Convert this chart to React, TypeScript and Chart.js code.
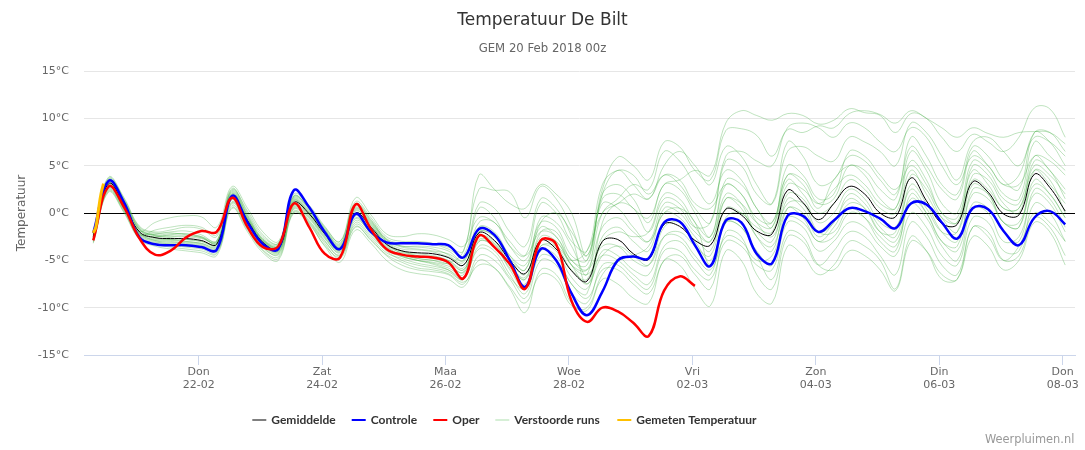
import React, { useEffect, useRef } from 'react';
import { Chart, registerables } from 'chart.js';

Chart.register(...registerables);

// ---- data ----
const TITLE = 'Temperatuur De Bilt';
const SUBTITLE = 'GEM 20 Feb 2018 00z';
const Y_TITLE = 'Temperatuur';
const CREDITS = 'Weerpluimen.nl';

// forecast hours (local time, hours since 20-02 00:00), 6-hourly from 20-02 07:00
const START_HOUR = 7;
const STEP_HOURS = 6;

const gemiddelde = [
  -2.5, 3.1, 0.9, -2.0, -2.6, -2.7, -2.7, -2.9, -3.3, 1.8, -0.8, -3.1, -3.8, 1.1, -0.1, -2.2,
  -3.8, 0.0, -1.5, -3.3, -4.0, -4.2, -4.3, -4.7, -5.5, -2.1, -2.9, -5.0, -6.4, -2.9, -3.8, -6.1,
  -7.2, -3.0, -2.8, -4.3, -4.9, -1.2, -1.4, -2.9, -3.4, 0.4, -0.2, -1.9, -2.2, 2.4, 1.1, -0.7,
  1.0, 2.8, 2.0, 0.0, -0.4, 3.7, 1.3, -1.1, -1.2, 3.3, 2.2, -0.1, -0.2, 4.1, 2.7, 0.2,
];

const controle = [
  -2.1, 3.4, 1.1, -2.6, -3.3, -3.4, -3.4, -3.6, -3.9, 1.8, -1.0, -3.3, -3.8, 2.4, 0.6, -2.0,
  -3.8, -0.1, -2.0, -3.1, -3.2, -3.2, -3.3, -3.4, -4.7, -1.7, -2.3, -5.0, -7.8, -3.8, -5.0, -8.5,
  -10.8, -8.3, -5.0, -4.6, -4.8, -1.0, -0.9, -3.4, -5.6, -0.8, -1.0, -4.3, -5.3, -0.3, -0.3, -2.0,
  -0.8, 0.5, 0.2, -0.6, -1.6, 1.0, 0.9, -1.0, -2.7, 0.5, 0.4, -1.9, -3.4, -0.5, 0.2, -1.2,
];

const oper = [
  -2.9, 2.8, 0.6, -2.7, -4.4, -4.0, -2.6, -1.9, -2.0, 1.6, -1.5, -3.6, -3.5, 1.0, -1.5, -4.3,
  -4.7, 0.9, -1.7, -3.8, -4.4, -4.6, -4.7, -5.2, -6.9, -2.4, -3.6, -5.4, -8.0, -2.9, -3.3, -9.3,
  -11.5, -10.0, -10.4, -11.6, -13.0, -8.2, -6.7, -7.7,
];

const gemetenHours = [7, 8, 9, 10, 11];
const gemeten = [-2.1, -1.5, 0.3, 2.0, 3.1];

// perturbed members (Verstoorde runs)
const m01 = [-2.2,3.6,1.4,-1.6, -2.3,-2.4,-2.5,-2.7, -3.0,2.2,-0.4,-2.8, -3.5,1.5,0.3,-1.8, -3.4,0.6,-1.0,-2.9, -3.6,-3.8,-4.0,-4.3, -5.0,0.5,-0.5,-3.5, -5.0,-1.0,-1.5,-4.5, -5.0,1.5,2.0,0.5, -0.5,3.0,3.5,4.5, 4.0,9.5,10.8,10.3, 9.8,10.5,10.3,9.4, 9.8,11.0,10.6,10.3, 8.5,10.5,10.0,8.0, 6.5,8.3,7.5,6.5, 8.0,11.1,11.0,8.0];
const m02 = [-2.0,3.8,1.6,-1.4, -2.0,-1.8,-1.5,-1.7, -2.5,2.4,0.2,-2.3, -3.2,1.8,0.6,-1.5, -3.0,1.2,-0.5,-2.5, -3.0,-3.0,-3.2,-3.6, -4.0,4.0,2.5,1.0, 0.5,3.0,2.0,0.0, -4.5,2.5,5.9,5.0, 3.5,7.5,7.0,4.5, 3.5,8.7,8.9,8.2, 6.0,8.8,8.5,9.2, 9.0,10.5,10.8,10.4, 9.5,10.8,10.0,9.0, 8.0,9.0,8.4,8.0, 8.5,8.6,8.5,7.3];
const m03 = [-2.6,2.9,0.8,-2.2, -2.8,-2.9,-3.0,-3.2, -3.6,1.5,-1.0,-3.3, -4.0,0.8,-0.4,-2.5, -4.0,-0.5,-2.0,-3.6, -4.4,-4.8,-5.0,-5.3, -4.0,2.5,2.4,2.2, -0.5,2.8,1.5,-1.5, -5.0,2.0,4.5,3.0, 1.5,5.0,6.5,5.0, 3.0,7.0,6.0,3.0, 1.0,6.5,7.0,6.0, 5.5,8.0,7.5,6.5, 5.0,9.5,8.5,6.0, 3.5,7.5,8.0,6.5, 5.0,8.0,7.5,6.0];
const m04 = [-2.3,3.3,1.0,-1.8, -2.4,-2.5,-2.4,-2.6, -3.1,2.0,-0.6,-3.0, -3.6,1.3,0.0,-2.0, -3.6,0.3,-1.3,-3.0, -3.8,-3.9,-4.1,-4.6, -5.2,-1.0,-1.0,-3.5, -4.5,1.0,0.0,-3.0, -4.0,3.0,4.5,4.0, 2.0,4.0,3.0,0.5, -1.0,5.5,5.0,2.0, 1.0,7.5,6.0,3.0, 3.5,6.0,5.5,3.5, 2.0,7.0,5.0,2.5, 1.5,6.5,5.0,3.0, 3.0,6.0,5.5,4.0];
const m05 = [-2.7,2.7,0.5,-2.3, -2.9,-3.0,-3.2,-3.4, -3.8,1.2,-1.2,-3.5, -4.2,0.6,-0.6,-2.7, -4.1,-0.8,-2.1,-3.8, -4.6,-5.0,-5.3,-5.8, -6.5,-1.5,-2.0,-4.5, -6.0,-0.5,-1.0,-3.5, -6.5,2.0,3.0,1.5, -1.0,3.0,2.5,0.0, -2.5,3.5,3.0,0.5, -1.5,5.0,4.0,1.5, 2.0,6.5,6.0,4.0, 2.5,5.0,3.0,0.0, -1.0,5.0,4.0,1.5, 1.0,6.0,4.5,2.5];
const m06 = [-2.4,3.0,0.7,-2.1, -2.2,-2.0,-1.9,-2.3, -3.0,2.5,-0.3,-2.8, -3.4,1.8,0.4,-1.8, -3.5,0.5,-1.2,-3.2, -4.0,-4.5,-4.8,-5.2, -6.0,-2.5,-3.0,-5.5, -7.0,-2.0,-2.0,-5.0, -5.5,0.0,1.5,3.0, 2.5,6.5,5.5,3.0, 1.0,4.5,3.5,0.5, -1.0,4.0,3.5,1.0, 1.5,5.0,4.0,1.5, 0.5,6.5,4.5,1.0, 0.0,5.5,4.5,2.0, 1.5,7.5,6.0,4.5];
const m07 = [-2.5,3.1,0.8,-2.0, -2.7,-2.8,-2.8,-3.0, -3.4,1.7,-0.9,-3.2, -3.9,1.0,-0.2,-2.3, -3.9,-0.1,-1.6,-3.4, -4.2,-4.5,-4.6,-5.0, -5.8,-2.5,-3.2,-5.5, -6.8,-2.8,-3.5,-6.0, -7.0,-2.5,-1.5,-3.0, -4.0,0.5,0.0,-2.0, -3.0,1.5,1.0,-1.0, -1.5,3.5,2.0,0.0, 1.0,3.5,2.5,0.5, 0.0,4.5,2.0,-0.5, -1.0,3.5,2.5,0.5, 0.5,4.5,3.0,1.0];
const m08 = [-2.8,2.6,0.4,-2.4, -3.0,-3.3,-3.5,-3.6, -4.0,1.0,-1.4,-3.7, -4.3,0.5,-0.8,-2.9, -4.5,-1.0,-2.4,-4.0, -5.0,-5.5,-5.8,-6.2, -7.0,-3.5,-4.0,-6.5, -8.5,-4.0,-4.5,-7.5, -8.5,-1.0,1.0,0.5, -2.0,1.5,1.0,-1.5, -3.0,2.0,1.0,-2.5, -4.0,1.5,0.5,-2.0, -1.0,2.0,1.0,-1.5, -2.5,3.0,1.0,-2.0, -3.0,2.0,1.5,-1.0, -1.5,3.5,2.0,-0.5];
const m09 = [-2.2,3.4,1.2,-1.7, -2.4,-2.6,-2.8,-3.0, -3.3,1.9,-0.7,-3.0, -3.7,1.2,0.0,-2.1, -3.7,0.2,-1.4,-3.2, -4.3,-4.8,-5.0,-5.4, -6.3,-3.0,-3.6,-5.8, -7.5,-3.5,-4.0,-6.8, -8.0,-4.0,-4.5,-6.0, -6.5,-2.5,-2.0,-3.5, -4.5,0.5,0.0,-1.5, -2.0,3.0,2.5,1.0, 2.5,4.0,3.0,1.0, 0.5,5.5,3.5,0.0, -0.5,4.5,3.0,0.5, 0.5,5.0,4.0,2.0];
const m10 = [-2.6,2.8,0.6,-2.2, -2.5,-2.3,-2.2,-2.5, -3.2,2.1,-0.5,-2.9, -3.5,1.4,0.2,-1.9, -3.6,0.8,-0.9,-2.8, -3.5,-3.5,-3.6,-4.0, -5.0,-1.5,-2.3,-4.5, -5.5,-1.5,-2.5,-5.0, -6.0,-3.5,-3.5,-5.0, -5.5,-1.5,-1.0,-3.0, -5.0,-1.0,-1.5,-4.0, -5.5,0.5,-0.5,-3.0, -1.5,1.0,0.5,-2.0, -3.0,1.5,0.0,-3.0, -4.0,1.0,0.5,-2.0, -3.0,2.5,1.5,-1.5];
const m11 = [-3.0,2.4,0.2,-2.6, -3.2,-3.4,-3.6,-3.8, -4.2,0.8,-1.6,-3.9, -4.6,0.2,-1.0,-3.2, -4.8,-1.5,-2.8,-4.5, -5.5,-6.0,-6.2,-6.5, -7.5,-4.5,-5.0,-7.0, -9.0,-5.0,-5.5,-8.5, -9.5,-5.5,-5.5,-7.0, -8.0,-4.0,-4.0,-6.0, -7.0,-3.0,-3.5,-5.5, -6.0,-1.0,-1.5,-4.0, -3.0,-1.0,-1.5,-3.5, -4.5,0.0,-1.5,-4.5, -5.5,-0.5,-1.0,-4.0, -4.0,1.0,0.0,-3.0];
const m12 = [-3.2,2.2,0.0,-2.8, -3.5,-3.8,-4.0,-4.2, -4.5,0.5,-2.0,-4.2, -5.0,0.0,-1.2,-3.5, -5.2,-1.8,-3.2,-5.0, -6.0,-6.4,-6.6,-7.0, -7.8,-5.0,-5.8,-8.0, -10.5,-6.0,-6.5,-9.5, -10.3,-7.0,-7.5,-9.0, -9.5,-5.0,-5.5,-8.0, -9.8,-4.0,-5.0,-8.5, -9.5,-3.5,-4.5,-6.5, -5.5,-3.0,-3.5,-5.0, -8.0,-2.5,-4.0,-7.0, -7.0,-2.5,-3.5,-6.0, -5.0,-1.0,-2.0,-5.5];
const m13 = [-2.4,3.2,1.0,-1.9, -1.0,-0.5,-0.3,-0.4, -1.5,2.8,0.5,-2.0, -3.0,2.0,0.8,-1.4, -3.0,1.6,-0.2,-2.2, -2.5,-2.2,-2.3,-2.8, -3.5,-0.5,-1.0,-3.0, -4.5,-2.0,-2.5,-5.5, -6.5,-4.5,-5.0,-6.5, -7.5,-3.5,-3.0,-5.0, -6.5,-1.0,-1.5,-4.5, -7.0,-2.0,-2.5,-5.5, -6.0,-4.0,-4.5,-6.0, -8.2,-3.0,-4.0,-6.5, -7.0,-1.5,-2.5,-5.0, -3.5,0.0,-1.0,-3.0];
const m14 = [-2.7,2.8,0.6,-2.3, -1.8,-1.5,-1.3,-1.5, -2.3,2.6,0.0,-2.5, -3.2,1.6,0.5,-1.6, -3.2,1.0,-0.7,-2.7, -3.2,-3.2,-3.3,-3.8, -4.5,1.0,0.5,-2.0, -3.5,1.5,0.5,-2.5, -7.5,-3.0,-2.0,-2.5, -2.0,2.0,1.5,-1.0, -2.5,3.0,2.0,-0.5, -1.0,4.0,3.0,0.5, 3.5,5.0,4.5,2.5, 1.5,8.0,6.0,3.0, 2.0,7.0,6.0,3.5, 2.5,8.5,7.5,5.0];
const m15 = [-2.9,2.5,0.3,-2.5, -3.1,-3.2,-3.3,-3.5, -3.9,1.1,-1.3,-3.6, -4.4,0.4,-0.9,-3.0, -4.4,-1.2,-2.6,-4.2, -4.8,-5.3,-5.6,-6.0, -6.8,-3.8,-4.4,-6.8, -8.0,-4.5,-5.0,-7.5, -9.0,-6.0,-6.0,-7.5, -8.5,-5.0,-4.5,-6.5, -8.0,-2.0,-2.5,-6.5, -8.0,-2.5,-3.0,-5.5, -4.0,-2.0,-2.5,-4.5, -6.5,-1.0,-2.5,-5.5, -6.5,-1.5,-2.0,-5.0, -4.5,-0.5,-1.5,-4.5];
const m16 = [-2.5,3.5,1.3,-1.7, -2.3,-2.2,-2.2,-2.5, -2.9,2.3,-0.2,-2.7, -3.3,1.7,0.5,-1.7, -3.3,0.9,-0.8,-2.8, -3.5,-3.6,-3.8,-4.4, -5.5,-2.0,-2.5,-4.8, -6.0,-1.0,0.0,-2.0, -4.5,1.0,0.5,-1.5, -3.0,0.0,0.5,-1.0, -5.5,-0.5,0.0,-2.0, -3.0,2.0,1.5,-1.0, 0.0,2.5,1.5,-1.0, -1.5,2.5,0.5,-2.0, -2.0,4.0,3.5,1.0, 0.0,5.5,4.5,1.5];
const m17 = [-2.1,3.7,1.5,-1.5, -2.1,-2.1,-2.3,-2.6, -3.2,2.0,-0.6,-2.9, -3.6,1.3,0.1,-2.0, -3.7,0.4,-1.1,-3.0, -4.1,-4.3,-4.5,-5.0, -6.0,-2.8,-3.3,-5.5, -7.0,-3.5,-3.5,-5.0, -4.0,0.0,1.0,2.0, 1.5,4.0,3.5,1.0, 0.5,3.0,2.0,-1.0, -2.5,1.0,1.0,-2.0, -2.0,0.5,-0.5,-3.0, -4.0,2.0,0.0,-3.0, -3.5,2.5,2.0,-1.0, -1.5,4.5,3.5,0.0];
const m18 = [-2.8,2.7,0.5,-2.1, -2.9,-3.1,-3.1,-3.3, -3.7,1.4,-1.1,-3.4, -4.1,0.7,-0.5,-2.6, -4.2,-0.6,-2.2,-3.9, -4.6,-5.0,-5.2,-5.6, -6.2,-2.0,-2.5,-5.0, -6.5,-2.5,-3.0,-5.5, -7.5,-4.5,-3.5,-4.5, -5.5,-2.5,-2.5,-4.5, -6.0,-2.5,-3.0,-5.0, -4.5,-0.5,-1.0,-3.0, -2.5,0.0,-0.5,-2.5, -3.5,1.0,-0.5,-3.5, -5.0,0.5,0.0,-3.0, -2.5,2.0,1.0,-2.0];
const m19 = [-2.3,3.5,1.2,-1.8, -2.6,-2.8,-3.0,-3.2, -3.5,1.6,-0.9,-3.3, -4.0,0.9,-0.3,-2.4, -3.9,-0.3,-1.8,-3.5, -4.5,-5.0,-5.4,-6.0, -7.0,-3.0,-3.5,-6.0, -8.0,-3.0,-3.0,-5.5, -6.0,-1.5,-0.5,-2.0, -3.0,1.0,0.5,-1.5, -1.0,6.0,6.5,5.5, 5.0,9.0,9.5,9.0, 8.0,9.5,9.0,7.5, 6.5,9.0,8.0,5.0, 3.0,6.0,5.0,3.0, 4.0,8.5,8.5,6.5];
const m20 = [-3.1,2.3,0.1,-2.7, -3.3,-3.6,-3.8,-4.0, -4.3,0.6,-1.8,-4.0, -4.8,0.1,-1.1,-3.4, -4.6,-1.4,-2.9,-4.4, -5.2,-5.8,-6.0,-6.4, -7.3,-5.5,-5.8,-7.8, -9.5,-6.5,-7.0,-9.8, -10.0,-6.5,-5.0,-4.5, -3.5,0.0,-0.5,-2.5, -4.0,1.5,0.5,-2.5, -3.5,0.5,0.0,-2.5, -1.0,1.5,0.5,-2.0, -2.0,4.0,2.5,-0.5, -2.0,3.0,2.0,-1.0, -1.0,3.0,2.0,-0.5];
const members = [m01, m02, m03, m04, m05, m06, m07, m08, m09, m10, m11, m12, m13, m14, m15, m16, m17, m18, m19, m20];

// x-axis ticks: every two days at 00:00
const tickHours = [48, 96, 144, 192, 240, 288, 336, 384];
const tickDays = ['Don', 'Zat', 'Maa', 'Woe', 'Vri', 'Zon', 'Din', 'Don'];
const tickDates = ['22-02', '24-02', '26-02', '28-02', '02-03', '04-03', '06-03', '08-03'];
const yTickValues = [-15, -10, -5, 0, 5, 10, 15];

const X_MIN = 3.4;
const X_MAX = 388.8;

const legendItems = [
  { label: 'Gemiddelde', color: '#7f7f7f' },
  { label: 'Controle', color: '#0000ff' },
  { label: 'Oper', color: '#ff0000' },
  { label: 'Verstoorde runs', color: '#d6efd6' },
  { label: 'Gemeten Temperatuur', color: '#ffc000' },
];

const FONT = '"DejaVu Sans", sans-serif';

function toPoints(arr: number[]) {
  return arr.map((v, i) => ({ x: START_HOUR + i * STEP_HOURS, y: v }));
}

const decorPlugin = {
  id: 'decor',
  afterDraw(chart: any) {
    const ctx = chart.ctx as CanvasRenderingContext2D;
    const area = chart.chartArea;
    ctx.save();
    // title
    ctx.textAlign = 'center';
    ctx.textBaseline = 'alphabetic';
    ctx.fillStyle = '#333333';
    ctx.font = `17px ${FONT}`;
    ctx.fillText(TITLE, chart.width / 2, 24.5);
    ctx.fillStyle = '#666666';
    ctx.font = `11.7px ${FONT}`;
    ctx.fillText(SUBTITLE, chart.width / 2, 51.7);
    // y-axis title
    ctx.save();
    ctx.translate(21.5, (area.top + area.bottom) / 2);
    ctx.rotate(-Math.PI / 2);
    ctx.textBaseline = 'middle';
    ctx.fillStyle = '#666666';
    ctx.font = `12px ${FONT}`;
    ctx.fillText(Y_TITLE, 0, 0);
    ctx.restore();
    // legend
    const legendX = [252.3, 351.7, 433.3, 495.3, 617.3];
    const ly = 420;
    ctx.textAlign = 'left';
    ctx.textBaseline = 'alphabetic';
    ctx.font = `bold 12px Lato, ${FONT}`;
    legendItems.forEach((it, i) => {
      const x0 = legendX[i];
      ctx.strokeStyle = it.color;
      ctx.lineWidth = 2;
      ctx.beginPath();
      ctx.moveTo(x0, ly);
      ctx.lineTo(x0 + 14, ly);
      ctx.stroke();
      ctx.fillStyle = '#333333';
      ctx.fillText(it.label, x0 + 19, ly + 4);
    });
    // credits
    ctx.textAlign = 'right';
    ctx.fillStyle = '#999999';
    ctx.font = `11.4px ${FONT}`;
    ctx.fillText(CREDITS, 1074.3, 442.7);
    ctx.restore();
  },
};

export default function App() {
  const ref = useRef<HTMLCanvasElement | null>(null);
  useEffect(() => {
    if (!ref.current) return;
    const datasets: any[] = [];
    datasets.push({
      label: 'Gemeten Temperatuur',
      data: gemetenHours.map((h, i) => ({ x: h, y: gemeten[i] })),
      borderColor: '#ffc000',
      borderWidth: 3,
      order: 0,
    });
    datasets.push({ label: 'Oper', data: toPoints(oper), borderColor: '#ff0000', borderWidth: 2.5, order: 1 });
    datasets.push({ label: 'Controle', data: toPoints(controle), borderColor: '#0000ff', borderWidth: 2.5, order: 2 });
    datasets.push({ label: 'Gemiddelde', data: toPoints(gemiddelde), borderColor: '#000000', borderWidth: 1, order: 3 });
    members.forEach((m, i) => {
      datasets.push({
        label: 'Verstoorde runs ' + (i + 1),
        data: toPoints(m),
        borderColor: 'rgba(60,170,60,0.33)',
        borderWidth: 1,
        order: 4,
      });
    });
    datasets.forEach((d) => {
      d.pointRadius = 0;
      d.tension = 0.4;
      d.fill = false;
    });
    const chart = new Chart(ref.current, {
      type: 'line',
      data: { datasets },
      plugins: [decorPlugin],
      options: {
        responsive: false,
        animation: false,
        events: [],
        layout: { padding: { top: 71, right: 10, left: 0, bottom: 0 } },
        plugins: { legend: { display: false }, title: { display: false }, tooltip: { enabled: false } },
        scales: {
          x: {
            type: 'linear',
            min: X_MIN,
            max: X_MAX,
            afterFit: (s: any) => { s.height = 95; },
            afterBuildTicks: (s: any) => { s.ticks = tickHours.map((v) => ({ value: v })); },
            ticks: {
              autoSkip: false,
              maxRotation: 0,
              padding: 0,
              color: '#666666',
              font: { family: FONT, size: 11, lineHeight: 1.25 },
              callback: (_v: any, i: number) => [tickDays[i], tickDates[i]],
            },
            grid: { display: true, drawOnChartArea: false, drawTicks: true, tickLength: 10, color: '#ccd6eb' },
            border: { display: true, color: '#ccd6eb' },
          },
          y: {
            min: -15,
            max: 15,
            afterFit: (s: any) => { s.width = 84; },
            afterBuildTicks: (s: any) => { s.ticks = yTickValues.map((v) => ({ value: v })); },
            ticks: {
              padding: 15,
              color: '#666666',
              font: { family: FONT, size: 11 },
              callback: (v: any) => `${v}°C`,
            },
            grid: {
              drawTicks: false,
              color: (c: any) => (c.tick && c.tick.value === 0 ? '#000000' : '#e6e6e6'),
            },
            border: { display: false },
          },
        },
      },
    });
    return () => chart.destroy();
  }, []);
  return (
    <div style={{ position: 'fixed', left: 0, top: 0, width: 1085, height: 450, background: '#ffffff' }}>
      <canvas ref={ref} width={1085} height={450} style={{ width: 1085, height: 450, display: 'block' }} />
    </div>
  );
}
